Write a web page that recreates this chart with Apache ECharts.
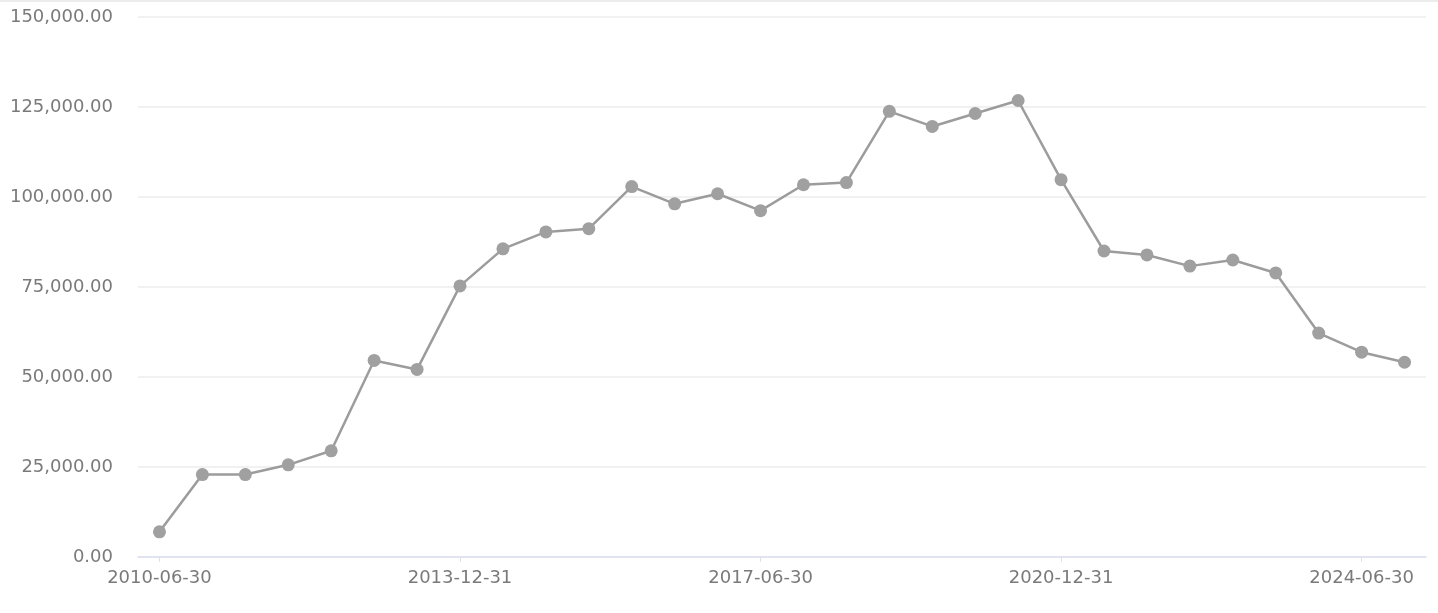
<!DOCTYPE html>
<html>
<head>
<meta charset="utf-8">
<script src="https://cdn.jsdelivr.net/npm/echarts@6/dist/echarts.min.js"></script>
<style>
html,body{margin:0;padding:0;background:#fff;}
#c{width:1438px;height:613px;border-top:2px solid #ececec;box-sizing:border-box;}
</style>
</head>
<body>
<div id="c"></div>
<script>
const categories = ["2010-06-30","2010-12-31","2011-06-30","2011-12-31","2012-06-30","2012-12-31","2013-06-30","2013-12-31","2014-06-30","2014-12-31","2015-06-30","2015-12-31","2016-06-30","2016-12-31","2017-06-30","2017-12-31","2018-06-30","2018-12-31","2019-06-30","2019-12-31","2020-06-30","2020-12-31","2021-06-30","2021-12-31","2022-06-30","2022-12-31","2023-06-30","2023-12-31","2024-06-30","2024-12-31"];
const values = [7000,22900,22900,25600,29500,54600,52100,75300,85600,90300,91200,102900,98100,100900,96200,103400,104000,123800,119600,123200,126800,104800,85000,83900,80800,82500,78900,62200,56900,54100];
const yTicks = {min:0, max:150000, interval:25000};

const chart = echarts.init(document.getElementById('c'));
chart.setOption({
  animation:false,
  grid:{left:138, right:12, top:15, bottom:56},
  xAxis:{
    type:'category',
    data:categories,
    boundaryGap:true,
    axisLine:{lineStyle:{color:'#dcdff0', width:1.5}},
    axisTick:{show:true, alignWithLabel:true, interval:6, length:5, lineStyle:{color:'#dcdff0'}},
    axisLabel:{interval:6, color:'#7a7a7a', fontSize:18, fontFamily:'DejaVu Sans', margin:12}
  },
  yAxis:{
    type:'value',
    min:yTicks.min, max:yTicks.max, interval:yTicks.interval,
    axisLine:{show:false}, axisTick:{show:false},
    splitLine:{lineStyle:{color:'#ececec', width:1.5}},
    axisLabel:{color:'#7a7a7a', fontSize:18, fontFamily:'DejaVu Sans', margin:25,
      formatter:v=>v.toLocaleString('en-US',{minimumFractionDigits:2, maximumFractionDigits:2})}
  },
  series:[{
    type:'line',
    data:values,
    symbol:'circle',
    symbolSize:13,
    itemStyle:{color:'#a0a0a0'},
    lineStyle:{color:'#9c9c9c', width:2.5}
  }]
});
</script>
</body>
</html>
